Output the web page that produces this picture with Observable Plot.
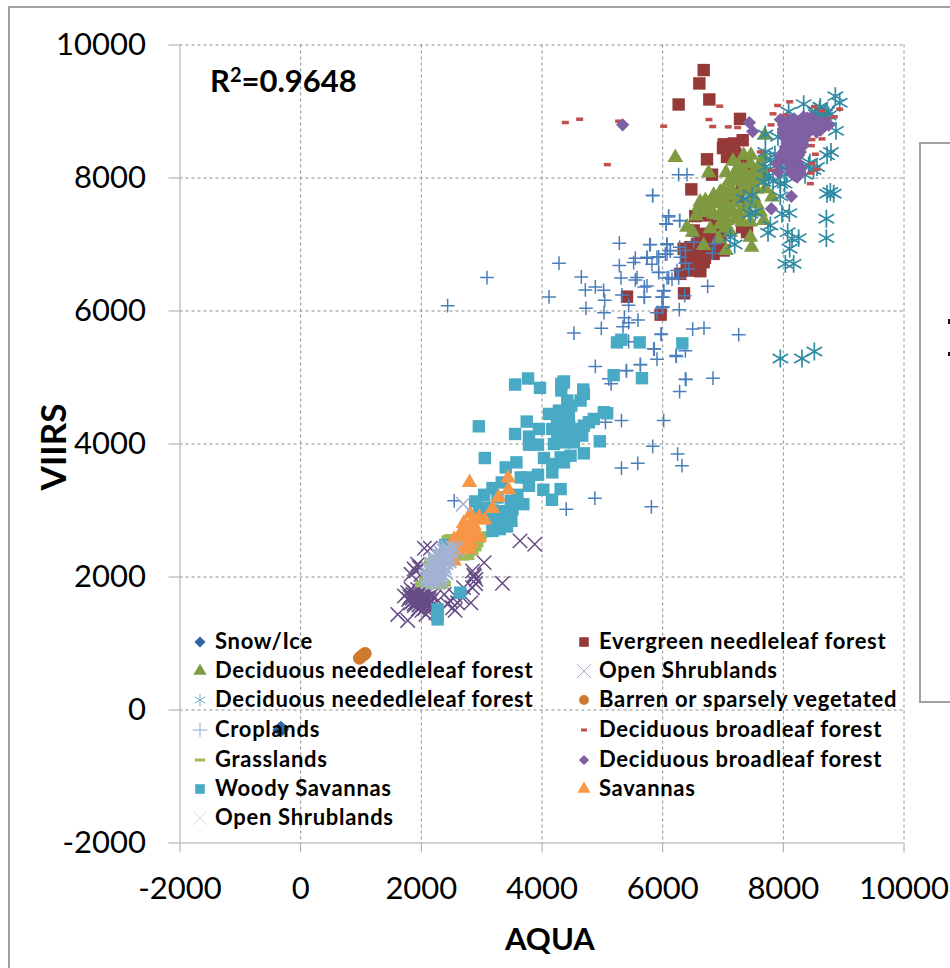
<!DOCTYPE html>
<html>
<head>
<meta charset="utf-8">
<script src="https://cdn.jsdelivr.net/npm/d3@7"></script>
<script src="https://cdn.jsdelivr.net/npm/@observablehq/plot@0.6"></script>
<style>
html,body{margin:0;padding:0;background:#fff}
#page{position:relative;width:950px;height:968px;overflow:hidden;font-family:Lato,sans-serif;color:#000}
#chart{position:absolute;left:0;top:0}
.frame{position:absolute;border:2px solid #a0a0a0;box-sizing:border-box}
.leg{position:absolute;display:flex;align-items:center;font-weight:700;font-size:22px;letter-spacing:.7px;white-space:nowrap;height:28px;line-height:24px}
.leg svg{position:absolute;left:-26px;top:0}
.ttl{position:absolute;font-weight:700;white-space:nowrap}
.speck{position:absolute;background:#111}
</style>
</head>
<body>
<div id="page">
<div id="chart"></div>
</div>
<script>
const tickValues = [-2000, 0, 2000, 4000, 6000, 8000, 10000];
const r2Label = "0.9648";

const snowIce = [[-360,-300],[-300,-290],[-330,-260]];

const evergreen = [[6680,9623],[6608,9422],[6773,9181],[6265,9105],[7282,8889],[7011,8507],[7149,8467],[7326,8568],[7204,8367],[7066,8317],[7094,8417],[6735,8281],[6818,8050],[6475,7829],[7398,8065],[7453,8015],[7315,7915],[7232,7714],[7121,7663],[7011,7412],[6541,7427],[6735,7437],[6900,7286],[7011,7211],[7398,7186],[7315,7261],[6624,7161],[6790,7111],[6514,7211],[6956,7060],[6348,6935],[6459,6960],[6569,7010],[6735,6910],[6845,6859],[7011,6910],[6459,6809],[6624,6859],[6514,6709],[6680,6734],[6403,6759],[6624,6598],[6293,6558],[6486,6608],[5409,6216],[6354,6266],[5967,5945],[7100,8380],[7200,8280],[7300,8200],[7000,8450],[7180,8520],[6600,6780],[6560,6640],[6700,6800],[6800,7000],[6900,6950],[6650,7000],[6750,7050],[6400,6650],[6540,6860]];

const needleTriangles = [[6210,8307],[7691,8643],[6762,8080],[7050,8080],[7166,8256],[7343,8342],[7464,8342],[7453,8216],[7674,8317],[7619,8216],[7232,8090],[7343,8116],[7508,8090],[7619,8116],[7177,7965],[7343,7940],[7481,7940],[7564,7965],[7702,7839],[7121,7864],[6956,7789],[6845,7739],[6707,7663],[6597,7563],[7011,7688],[7177,7739],[7398,7814],[7508,7714],[7812,7714],[7619,7487],[7674,7362],[7453,7337],[7260,7462],[7055,7588],[6890,7613],[6790,7513],[6956,7437],[7066,7362],[7149,7513],[7315,7337],[6552,7427],[6403,7261],[6497,7186],[6790,7236],[6928,7085],[6680,6985],[7050,6910],[7121,7186],[7453,7111],[7475,6960],[6700,7560],[6800,7620],[6900,7700],[7000,7800],[7100,7950],[7180,8050],[7260,8180],[7400,8020],[7300,7800],[7200,7620],[7100,7480],[6950,7300],[7050,7250],[7200,7380],[7350,7560],[7450,7640],[7550,7830],[7420,7480],[7560,7610],[7650,8010],[7700,8060],[6620,7640],[6700,7480],[6850,7450],[7000,7540],[7140,7830],[7270,7990],[7400,7900]];

const shrubDark = [[1609,1437],[1774,1347],[2050,2432],[2149,2432],[1939,2191],[1912,2090],[1829,2040],[1967,2141],[1994,2040],[3041,2216],[2848,2090],[2904,1965],[2848,1839],[3344,1905],[3636,2543],[3879,2492],[2821,1613],[2600,1613],[2518,1538],[2435,1588],[2380,1739],[2683,1688],[2077,1437],[2242,1462],[2700,1840],[2560,1500],[2880,2010],
[1719,1714],[1774,1764],[1829,1814],[1884,1770],[1939,1814],[1994,1790],[2050,1760],[2105,1780],[2160,1720],[1790,1663],[1840,1714],[1884,1663],[1939,1714],[1994,1680],[2050,1663],[2105,1690],[2160,1640],[2215,1700],[1829,1613],[1884,1570],[1939,1613],[1994,1563],[2050,1600],[2105,1570],[2160,1560],[1950,1520],[2010,1500],[2060,1530],[1810,1700],[1860,1740],[1910,1720],[1965,1750],[2020,1720],[2075,1730],[2130,1660],[1860,1640],[1915,1620],[1965,1650],[2020,1630],[2075,1620],[2130,1600],[1900,1680],[1960,1580],[2020,1570],[1880,1600],[1850,1680],[1930,1660],[2000,1640],[2070,1670],[1980,1700],[2040,1690],[2900,1900],[2870,2030],[1880,2120],[1990,2150],[2140,1500],[2480,1640],[2560,1720]];

const needleStars = [[8862,9231],[8934,9131],[8337,9111],[8088,8995],[8613,9070],[8724,8995],[8669,8920],[8873,8709],[7912,8618],[7702,8653],[7702,8392],[8724,8342],[8790,8392],[7785,8266],[8033,8266],[7950,8317],[8420,8191],[8558,8166],[7702,8166],[7674,7940],[7950,7915],[8022,7915],[7343,7688],[7481,7739],[7950,7724],[7453,7462],[7536,7487],[7978,7462],[8100,7472],[8724,7764],[8835,7764],[8779,7789],[8713,7387],[8713,7096],[7785,7286],[7746,7176],[8072,7186],[8254,7096],[8144,7085],[8105,6935],[8033,6709],[8171,6709],[7121,7111],[7193,7000],[7950,5286],[8309,5286],[8514,5392],[8530,8995],[8752,8869],[8640,8940],[8600,9030],[8540,8960],[8620,8910],[8690,8960],[8750,8940],[8580,8880],[8700,8850],[8360,8050],[8440,8230],[8500,8120],[7900,8200],[7980,8150],[7860,8350],[8050,8060],[7760,8030],[7830,7950],[8060,8300]];

const barren = [[975,780],[1010,810],[1045,835],[1070,850]];

const croplands = [[2436,6080],[3088,6503],[4282,6719],[4116,6211],[4652,6513],[4718,6317],[4884,6362],[5022,6312],[5039,6161],[4729,6040],[5028,5975],[4530,5668],[4983,5739],[5282,7020],[5282,6683],[5309,6497],[5326,6241],[5436,6085],[5519,6729],[5547,6794],[5785,6995],[5740,6794],[5823,6704],[5934,6814],[5934,6578],[5575,6503],[5547,6467],[5696,6362],[5740,6377],[5696,6211],[6017,6302],[5989,6211],[5989,6050],[5906,5975],[5365,5899],[5436,5824],[5591,5864],[5343,5764],[5834,7734],[6099,7432],[6061,7306],[6072,6995],[6127,6905],[6044,6854],[6099,6503],[6155,6477],[6282,7357],[5972,5648],[5436,5538],[5851,5432],[6265,8050],[6403,8050],[5834,7739],[6099,7412],[6282,7362],[6055,7312],[6514,7035],[6862,7010],[6823,6869],[6072,7010],[6282,6960],[5796,7000],[6376,6910],[6127,6909],[5740,6809],[5906,6809],[6293,6809],[6072,6859],[6376,6719],[6431,6633],[6238,6608],[5934,6583],[6072,6497],[6265,6497],[6746,6372],[6365,6231],[6017,6307],[6006,6206],[5696,6206],[6006,6065],[6276,6020],[5978,5653],[6497,5729],[6685,5744],[7260,5643],[5862,5427],[6376,5402],[6227,5317],[5906,5276],[5630,5191],[4884,5166],[5398,5100],[6376,4975],[6834,4990],[5400,5105],[5631,5196],[6221,5332],[5107,4980],[5146,4905],[6386,4970],[6281,4789],[5317,4352],[5052,4327],[6017,4352],[5835,3965],[6248,3849],[6320,3673],[5317,3638],[5587,3709],[4876,3186],[5813,3055],[4402,3020],[2545,3146]];

const broadleafDash = [[4387,8834],[4624,8884],[5271,8854],[6017,8779],[5083,8201],[6945,9080],[6768,8879],[6829,8774],[7088,8769],[7243,8759],[7619,8392],[7906,9090],[8105,9146],[7829,8965],[7796,8799],[8514,9070],[8641,9010],[8934,9035],[8845,8920],[8475,8578],[8641,8588],[8464,8487],[8530,8357],[8475,8216],[8558,8131],[8459,8075],[8448,7915],[7812,8116],[8033,8945],[8724,8894]];

const grasslands = [[2435,2583],[2480,2600],[3041,2643],[2931,2492],[2848,2367],[2215,2291],[1994,1889],[2325,1864],[2105,1915],[2190,2190],[2250,1870],[2960,2560],[2990,2610],[2900,2430],[2780,2300],[2700,2290],[2150,2240],[2060,1960],[2390,1900],[2170,1860],[2520,2560],[2590,2600]];

const broadleafDiamonds = [[5337,8799],[7437,8834],[7492,8698],[8133,7724],[7801,7538],[7917,8090],[8227,8015],[7950,8879],[8116,8869],[8337,8920],[8503,8869],[8669,8794],[8752,8794],[8006,8744],[8171,8744],[8337,8744],[8503,8744],[8614,8719],[8033,8593],[8199,8618],[8365,8643],[8448,8719],[8033,8467],[8199,8467],[8337,8492],[7950,8342],[8144,8342],[8282,8392],[8171,8241],[8254,8342],[7895,8216],[8199,8191],[8238,8090],[8144,8065],[8282,8065],[8254,8850],[8420,8850],[8060,8850],[8590,8850],[8120,8560],[8280,8550],[8090,8400],[8200,8300],[8100,8220],[8090,8800],[8250,8800],[8420,8790],[8580,8790],[8700,8840],[8090,8680],[8250,8690],[8410,8680],[8520,8800],[8120,8640],[8280,8620],[8100,8500],[8270,8520],[8060,8530],[8180,8540],[8130,8400],[8220,8420],[8030,8400],[8180,8360],[8120,8280],[8230,8240],[8000,8300],[8160,8140],[8240,8170],[8300,8150],[8120,8120],[8180,8040],[8210,8100],[8320,8820],[8460,8910],[8400,8900],[8180,8890],[8040,8780],[8000,8680],[8550,8690],[8640,8750],[8330,8560],[8000,8800]];

const woodySavannas = [[5243,5528],[5315,5568],[5619,5528],[6326,5513],[5188,5035],[5657,4990],[4359,4925],[3554,4894],[3769,4985],[3967,4844],[4364,4940],[4320,4904],[4320,4804],[4683,4819],[4694,4754],[4419,4653],[4639,4653],[4485,4578],[2953,4266],[3747,4337],[3554,4151],[3950,4226],[3785,4111],[3785,3990],[3934,3990],[4116,4452],[4281,4502],[4446,4402],[4171,4226],[4336,4301],[4529,4226],[4777,4327],[4860,4377],[5025,4477],[5080,4462],[4694,4276],[4667,4126],[4474,4101],[4253,4101],[4198,4000],[4529,4025],[4959,4040],[4364,4025],[4033,3789],[4309,3799],[4171,3698],[4474,3824],[4694,3859],[4364,3724],[4171,3573],[3576,3724],[3399,3648],[3052,3789],[3934,3538],[3758,3497],[3647,3497],[3785,3372],[4022,3312],[4309,3322],[4165,3161],[3333,3422],[3179,3337],[3041,3236],[2892,3136],[3592,3236],[3691,3095],[3510,3020],[3069,3045],[3262,3196],[3482,3146],[3493,2844],[3344,2859],[3179,2844],[3179,2693],[2397,2482],[2645,1764],[2270,1513],[2270,1362],[2270,1437],[4250,4400],[4400,4200],[4300,4150],[4450,4260],[4580,4180],[3180,3000],[3340,2990],[2960,2960],[3420,2760],[3300,2720]];

const savannas = [[2799,3422],[3438,3487],[3444,3312],[3278,3196],[3179,3030],[2810,2945],[2700,2804],[2959,2894],[3053,2854],[2876,2769],[2793,2719],[2656,2668],[2544,2568],[2959,2593],[2848,2593],[2738,2543],[2656,2493],[2793,2417],[2600,2392],[2490,2342],[2545,2241],[2700,2620],[2900,2680],[2780,2650],[2620,2440],[2620,2570],[2720,2480],[2830,2500],[2570,2460],[2500,2450],[2860,2870],[2750,2740]];

const shrubLight = [[2694,3095],[2077,1965],[2132,1940],[2187,1915],[2270,1915],[2325,1940],[2105,2040],[2187,2015],[2270,2015],[2353,2040],[2408,2065],[2132,2116],[2215,2090],[2297,2116],[2380,2141],[2160,2191],[2243,2191],[2325,2191],[2408,2216],[2463,2241],[2215,2266],[2297,2291],[2380,2291],[2463,2317],[2325,2367],[2408,2367],[2490,2392],[2435,2442],[2518,2442],[2573,2417],[2100,2000],[2160,2060],[2240,2050],[2310,2060],[2200,2150],[2280,2150],[2350,2240],[2430,2290],[2260,2240],[2340,2310],[2470,2380],[2390,2420],[2210,1970],[2300,1980],[2130,1990],[2180,1960],[2240,1940],[2290,2000],[2150,2010],[2200,2030],[2260,1990],[2330,2000],[2170,2100],[2230,2120],[2290,2070],[2350,2100],[2190,2190],[2250,2160],[2310,2150],[2370,2180],[2230,2230],[2290,2240],[2350,2280],[2410,2260],[2300,2320],[2360,2330],[2420,2330],[2380,2390],[2450,2400]];

const legendLeft = ["Snow/Ice","Deciduous neededleleaf forest","Deciduous neededleleaf forest","Croplands","Grasslands","Woody Savannas","Open Shrublands"];
const legendRight = ["Evergreen needleleaf forest","Open Shrublands","Barren or sparsely vegetated","Deciduous broadleaf forest","Deciduous broadleaf forest","Savannas"];

const dash = (w, h) => ({draw(c){ c.rect(-w/2, -h/2, w, h); }});
const markDash = dash(7, 3.5), grassDash = dash(12, 6);
const diamond = "diamond2";

// drawing order follows the original workbook's series order
const series = [
  {d: snowIce, s: diamond, r: 6, fill: "#2f66a3"},
  {d: evergreen, s: "square", r: 7, fill: "#953a38"},
  {d: needleTriangles, s: "triangle", r: 5.8, fill: "#7f9a41"},
  {d: shrubDark, s: "times", r: 6.6, stroke: "#674d87", sw: 1.5},
  {d: needleStars, s: "asterisk", r: 8.5, stroke: "#2f8aa3", sw: 1.7},
  {d: barren, s: "circle", r: 6.5, fill: "#cf7a31"},
  {d: croplands, s: "plus", r: 4.5, stroke: "#4a7ebb", sw: 1.5},
  {d: broadleafDash, s: markDash, r: 4, fill: "#c0504d"},
  {d: grasslands, s: grassDash, r: 4, fill: "#9bbb59"},
  {d: broadleafDiamonds, s: diamond, r: 6, fill: "#7f60a2"},
  {d: woodySavannas, s: "square", r: 7, fill: "#48aac5"},
  {d: savannas, s: "triangle", r: 5.8, fill: "#f79646"},
  {d: shrubLight, s: "times", r: 6.6, stroke: "#a3b3d3", sw: 1.6}
];

const plot = Plot.plot({
  width: 950, height: 968,
  marginLeft: 179.5, marginRight: 46.5, marginTop: 44.5, marginBottom: 125.5,
  style: {fontFamily: "Lato, sans-serif", fontSize: "31px", background: "transparent", overflow: "visible"},
  x: {domain: [-2000, 10000], ticks: tickValues, tickFormat: String, label: null},
  y: {domain: [-2000, 10000], ticks: tickValues, tickFormat: String, label: null},
  marks: [
    Plot.gridX(tickValues.slice(1), {stroke: "#8c8c8c", strokeOpacity: 1, strokeDasharray: "3,3"}),
    Plot.gridY(tickValues.slice(1), {stroke: "#8c8c8c", strokeOpacity: 1, strokeDasharray: "3,3"}),
    Plot.axisX(tickValues, {anchor: "bottom", tickSize: 10, tickPadding: 24, stroke: "#a8a8a8", fill: "#000", label: null, tickFormat: String, fontSize: 31}),
    Plot.axisY(tickValues, {anchor: "left", tickSize: 11, tickPadding: 23, stroke: "#a8a8a8", fill: "#000", label: null, tickFormat: String, fontSize: 31}),
    Plot.ruleX([-2000], {stroke: "#a8a8a8"}),
    Plot.ruleY([-2000], {stroke: "#a8a8a8"}),
    ...series.map(o => Plot.dot(o.d, {
      x: p => p[0], y: p => p[1], symbol: o.s, r: o.r,
      fill: o.fill ?? "none", stroke: o.stroke ?? "none", strokeWidth: o.sw ?? 1
    }))
  ]
});

const page = document.getElementById("page");
document.getElementById("chart").appendChild(plot);

function addDiv(cls, css, html){
  const e = document.createElement("div");
  e.className = cls; e.style.cssText = css; if (html != null) e.innerHTML = html;
  page.appendChild(e); return e;
}
// outer chart frame and the cropped neighbouring box
addDiv("frame", "left:8px;top:6px;width:1000px;height:1000px");
addDiv("frame", "left:919px;top:142px;width:100px;height:561px");
addDiv("speck", "left:948px;top:319px;width:2px;height:5px");
addDiv("speck", "left:948px;top:352px;width:2px;height:4px");

addDiv("ttl", "left:210px;top:60px;font-size:31px;line-height:40px", 'R<sup style="font-size:20px;line-height:0;vertical-align:10px">2</sup>=' + r2Label);
addDiv("ttl", "left:505px;top:918px;font-size:31px;line-height:40px", "AQUA");
addDiv("ttl", "left:52px;top:447px;font-size:35px;line-height:40px;transform:translate(-50%,-50%) rotate(-90deg)", "VIIRS");

const symbolTypes = {square:d3.symbolSquare,triangle:d3.symbolTriangle,times:d3.symbolTimes,asterisk:d3.symbolAsterisk,plus:d3.symbolPlus,circle:d3.symbolCircle,diamond2:d3.symbolDiamond2};
function swatch(o, r){
  const svg = d3.create("svg").attr("width", 22).attr("height", 28).attr("viewBox", "-11 -15 22 28");
  const path = d3.symbol(typeof o.s === "string" ? symbolTypes[o.s] : o.s, Math.PI*r*r)();
  svg.append("path").attr("d", path).attr("fill", o.fill ?? "none").attr("stroke", o.stroke ? o.lg ?? o.stroke : "none").attr("stroke-width", 1);
  return svg.node();
}
const leftOrder = [0, 2, 4, 6, 8, 10, 12];
const rightOrder = [1, 3, 5, 7, 9, 11];
const rowTops = [627, 656, 685, 715, 745, 774, 803];
const legendSizes = {0: 5, 1: 5.4, 2: 4.9, 3: 6.4, 4: 6, 5: 4.9, 6: 4.7, 8: 4, 7: 4, 9: 4.6, 10: 5.4, 11: 4.9, 12: 6.4};
function legendCol(names, order, x){
  names.forEach((name, i) => {
    const e = addDiv("leg", `left:${x}px;top:${rowTops[i]}px`, name);
    const o = {...series[order[i]]};
    if (o.s === markDash) o.s = dash(6, 3);
    if (o.s === grassDash) o.s = dash(10, 3);
    if (o.stroke) o.lg = d3.interpolateRgb(o.stroke, "#fff")(0.35);
    if (order[i] === 12) o.lg = "#d3daea";
    if (order[i] === 3) o.lg = "#b4a7c9";
    e.appendChild(swatch(o, legendSizes[order[i]]));
  });
}
legendCol(legendLeft, leftOrder, 215);
legendCol(legendRight, rightOrder, 599);
</script>
</body>
</html>
